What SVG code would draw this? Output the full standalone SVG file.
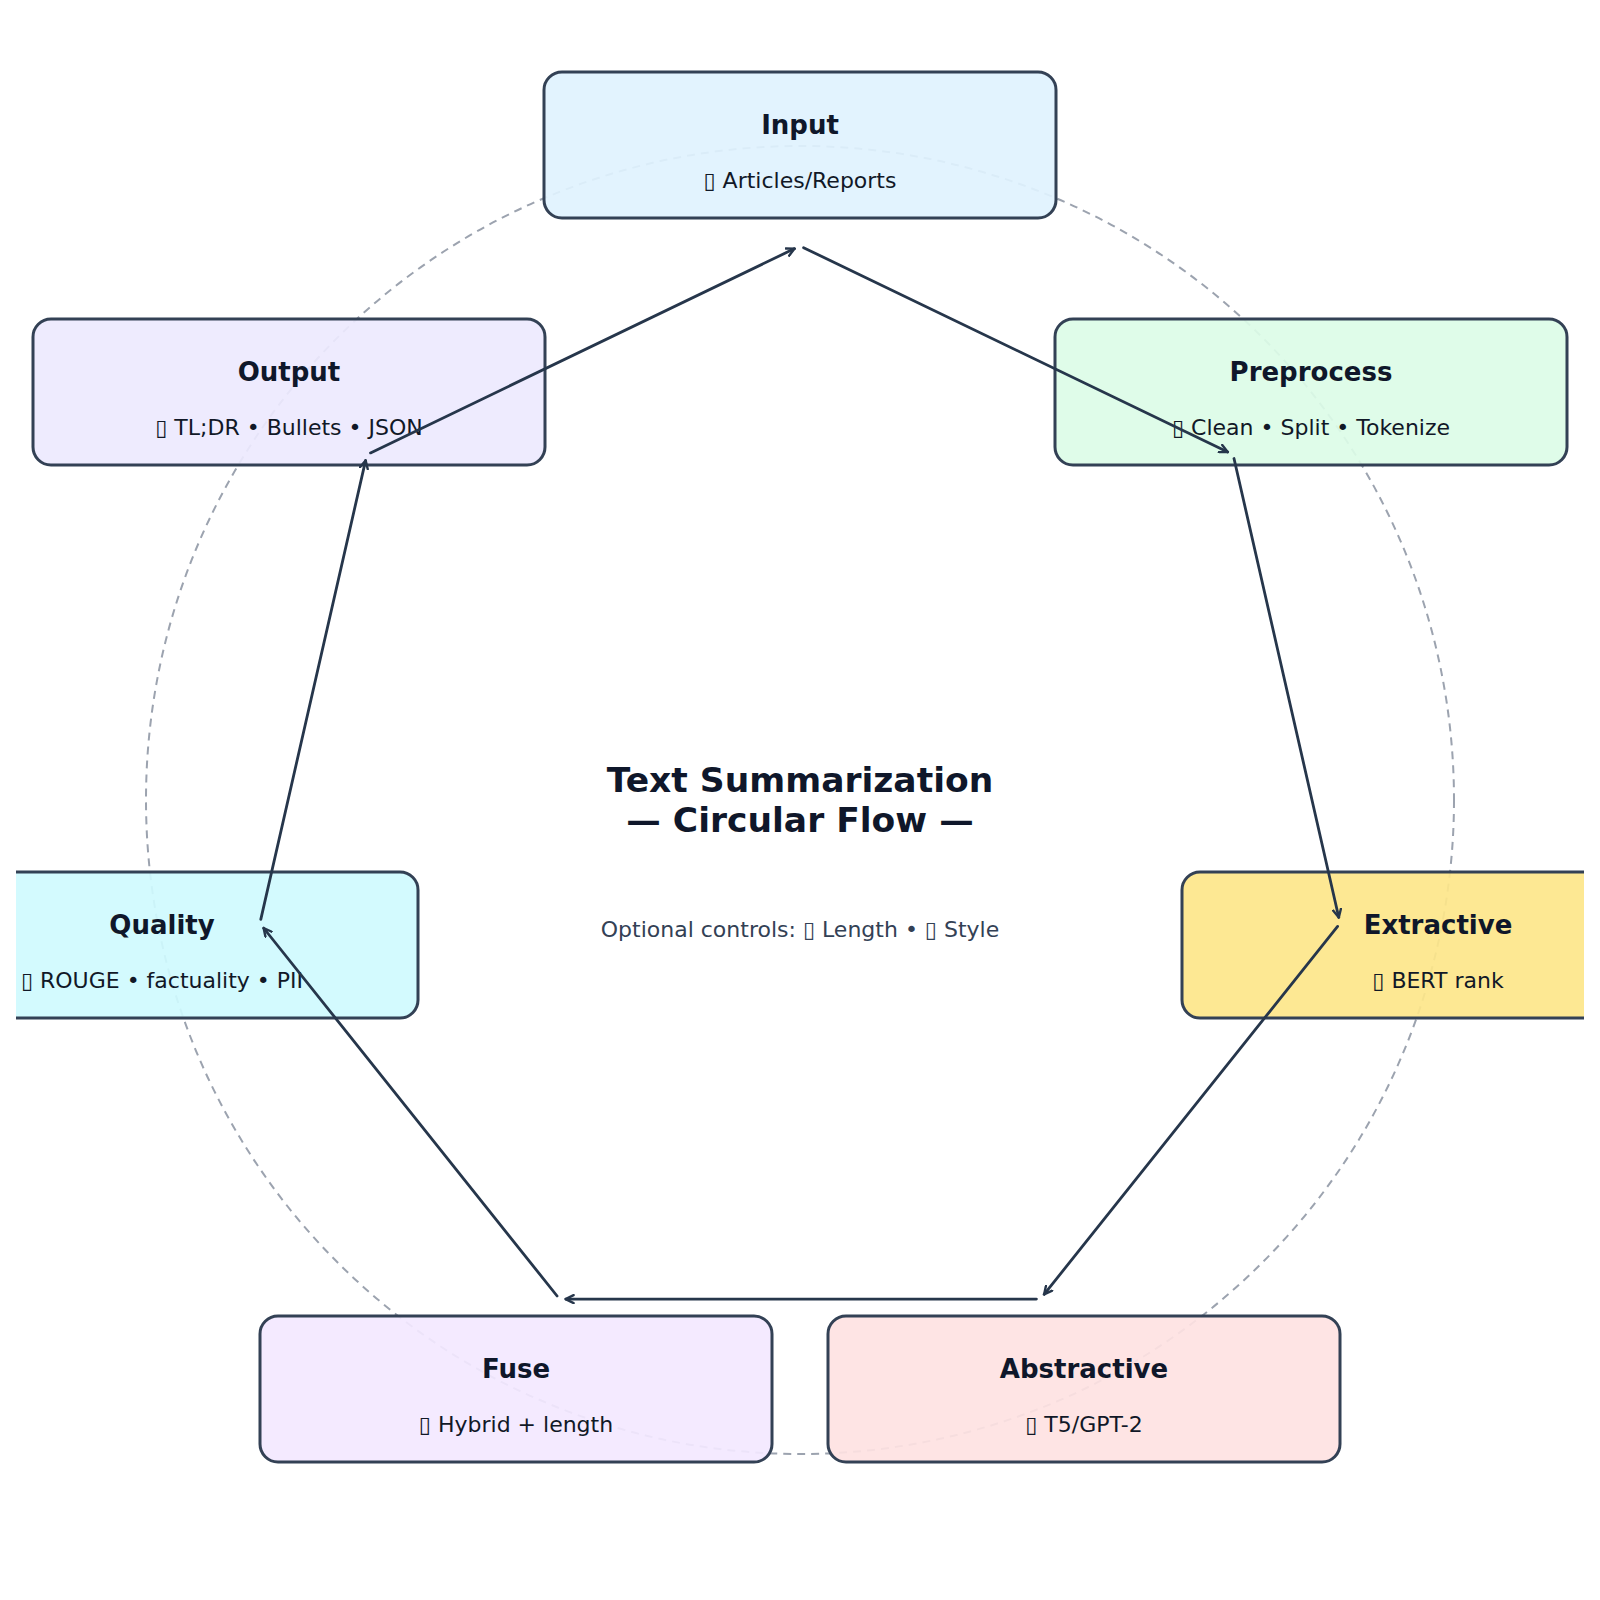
<svg xmlns="http://www.w3.org/2000/svg" width="1600" height="1600" viewBox="0 0 1600 1600">
  <style>
    .box { stroke: #334155; stroke-width: 3; fill-opacity: 0.92; }
    .title { font-family: "DejaVu Sans", "Noto Sans", sans-serif; font-weight: bold; font-size: 26px; fill: #0f172a; text-anchor: middle; }
    .sub { font-family: "DejaVu Sans", "Noto Sans", sans-serif; font-size: 22px; fill: #111827; text-anchor: middle; }
    .conn { stroke: #26364b; stroke-width: 2.8; fill: none; stroke-linecap: round; }
    .ring { fill: none; stroke: #9ca3af; stroke-width: 2; stroke-dasharray: 8 6; }
  </style>
  <defs>
    <clipPath id="pad"><rect x="16" y="16" width="1568" height="1568"/></clipPath>
    <marker id="arrow" viewBox="0 0 10 10" refX="9" refY="5" markerWidth="10" markerHeight="10" markerUnits="userSpaceOnUse" orient="auto">
      <path d="M1,1 L9,5 L1,9" fill="none" stroke="#26364b" stroke-width="2.4" stroke-linecap="round" stroke-linejoin="round"/>
    </marker>
  </defs>
  <rect width="1600" height="1600" fill="#ffffff"/>
  <g clip-path="url(#pad)">
    <circle class="ring" cx="800" cy="800" r="654"/>

    <g id="node-input">
      <rect class="box" x="544" y="72" width="512" height="146" rx="18" fill="#e0f2fe"/>
      <text class="title" x="800" y="134">Input</text>
      <text class="sub" x="800" y="188">▯ Articles/Reports</text>
    </g>
    <g id="node-preprocess">
      <rect class="box" x="1055" y="319" width="512" height="146" rx="18" fill="#dcfce7"/>
      <text class="title" x="1311" y="381">Preprocess</text>
      <text class="sub" x="1311" y="435">▯ Clean • Split • Tokenize</text>
    </g>
    <g id="node-extractive">
      <rect class="box" x="1182" y="872" width="512" height="146" rx="18" fill="#fde68a"/>
      <text class="title" x="1438" y="934">Extractive</text>
      <text class="sub" x="1438" y="988">▯ BERT rank</text>
    </g>
    <g id="node-abstractive">
      <rect class="box" x="828" y="1316" width="512" height="146" rx="18" fill="#fee2e2"/>
      <text class="title" x="1084" y="1378">Abstractive</text>
      <text class="sub" x="1084" y="1432">▯ T5/GPT-2</text>
    </g>
    <g id="node-fuse">
      <rect class="box" x="260" y="1316" width="512" height="146" rx="18" fill="#f3e8ff"/>
      <text class="title" x="516" y="1378">Fuse</text>
      <text class="sub" x="516" y="1432">▯ Hybrid + length</text>
    </g>
    <g id="node-quality">
      <rect class="box" x="-94" y="872" width="512" height="146" rx="18" fill="#cffafe"/>
      <text class="title" x="162" y="934">Quality</text>
      <text class="sub" x="162" y="988">▯ ROUGE • factuality • PII</text>
    </g>
    <g id="node-output">
      <rect class="box" x="33" y="319" width="512" height="146" rx="18" fill="#ede9fe"/>
      <text class="title" x="289" y="381">Output</text>
      <text class="sub" x="289" y="435">▯ TL;DR • Bullets • JSON</text>
    </g>

    <g id="connectors">
      <line class="conn" x1="803.6" y1="247.7" x2="1227.7" y2="452.0" marker-end="url(#arrow)"/>
      <line class="conn" x1="1234.0" y1="458.5" x2="1338.8" y2="917.5" marker-end="url(#arrow)"/>
      <line class="conn" x1="1337.6" y1="926.4" x2="1044.1" y2="1294.4" marker-end="url(#arrow)"/>
      <line class="conn" x1="1036.4" y1="1299.1" x2="565.6" y2="1299.1" marker-end="url(#arrow)"/>
      <line class="conn" x1="557.1" y1="1296.0" x2="263.6" y2="928.0" marker-end="url(#arrow)"/>
      <line class="conn" x1="260.8" y1="919.4" x2="365.6" y2="460.4" marker-end="url(#arrow)"/>
      <line class="conn" x1="370.5" y1="452.9" x2="794.6" y2="248.6" marker-end="url(#arrow)"/>
    </g>

    <g id="center-label">
      <text class="title" x="800" y="792" style="font-size:34.5px">Text Summarization</text>
      <text class="title" x="800" y="832" style="font-size:34.5px">— Circular Flow —</text>
      <text class="sub" x="800" y="937" style="fill:#334155">Optional controls: ▯ Length • ▯ Style</text>
    </g>
  </g>
</svg>
